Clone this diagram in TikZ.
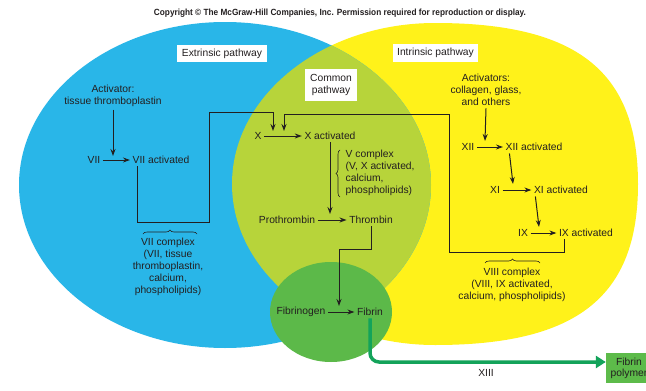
\documentclass[tikz,border=0pt]{standalone}
\usepackage{graphicx}
\usepackage{fontspec}
\setmainfont{Liberation Sans}
\usetikzlibrary{arrows.meta,decorations.pathreplacing}
\definecolor{cblue}{HTML}{29B6E8}
\definecolor{cyellow}{HTML}{FFF21A}
\definecolor{lgreen}{HTML}{B7D43A}
\definecolor{dgreen}{HTML}{5CB949}
\definecolor{agreen}{HTML}{13A35A}
\definecolor{pgreen}{HTML}{5DBB4A}
\definecolor{txt}{HTML}{231F20}
\begin{document}
\begin{tikzpicture}[x=1pt,y=-1pt,
  lbl/.style={font=\fontsize{10.3}{12}\selectfont, text=txt, inner sep=2.5pt, align=center},
  arr/.style={draw=txt, line width=1pt, -{Stealth[length=7pt,width=5pt]}},
  brc/.style={draw=txt, line width=0.6pt, decorate, decoration={brace,amplitude=4pt}},
  hdr/.style={fill=white, inner sep=0pt, text=txt, font=\fontsize{10.3}{12}\selectfont, align=center}]
\clip (0,0) rectangle (646,391);
\fill[white] (0,0) rectangle (646,391);
% yellow (intrinsic)
\def\yellowpath{(435,23) .. controls (577.1,23) and (638,71.3) .. (638,184)
  .. controls (638,296.7) and (577.1,345) .. (435,345)
  .. controls (323,345) and (232,272.9) .. (232,184)
  .. controls (232,95.1) and (323,23) .. (435,23) -- cycle}
\fill[cyellow] \yellowpath;
% blue (extrinsic)
\fill[cblue] (225,185) ellipse [x radius=206, y radius=163];
% common (overlap)
\begin{scope}
  \clip (225,185) ellipse [x radius=206, y radius=163];
  \fill[lgreen] \yellowpath;
\end{scope}
% fibrin circle
\fill[dgreen] (331,312) ellipse [x radius=61, y radius=50];

% copyright
\node[inner sep=0pt, text=txt] (cr) at (340,13) {\resizebox{372pt}{6.5pt}{\bfseries Copyright \textcopyright{} The McGraw-Hill Companies, Inc. Permission required for reproduction or display.}};

% headers
\node[hdr, minimum width=90pt, minimum height=17pt] (ext) at (222,53.5) {Extrinsic pathway};
\node[hdr, minimum width=85pt, minimum height=17.5pt] (int) at (435.5,53) {Intrinsic pathway};
\node[hdr, minimum width=52pt, minimum height=32pt] (com) at (331,85) {Common\\pathway};

% extrinsic
\node[lbl] (act1) at (113,96) {Activator:\\tissue thromboplastin};
\node[lbl] (vii) at (94,160) {VII};
\node[lbl] (viia) at (161,160) {VII activated};
\node[lbl] (viic) at (168,267) {VII complex\\(VII, tissue\\thromboplastin,\\calcium,\\phospholipids)};

% common
\node[lbl] (x) at (258,136) {X};
\node[lbl] (xa) at (330,136) {X activated};
\node[lbl, align=left, anchor=west] (vc) at (343,173) {V complex\\(V, X activated,\\calcium,\\phospholipids)};
\node[lbl] (pro) at (287,220) {Prothrombin};
\node[lbl] (thr) at (371,220) {Thrombin};
\node[lbl] (fbg) at (301,312) {Fibrinogen};
\node[lbl] (fib) at (370,312) {Fibrin};

% intrinsic
\node[lbl] (act2) at (486,90) {Activators:\\collagen, glass,\\and others};
\node[lbl] (xii) at (468,147) {XII};
\node[lbl] (xiia) at (534,147) {XII activated};
\node[lbl] (xi) at (495,190) {XI};
\node[lbl] (xia) at (561,190) {XI activated};
\node[lbl] (ix) at (523,233) {IX};
\node[lbl] (ixa) at (586,233) {IX activated};
\node[lbl] (viiic) at (512,285) {VIII complex\\(VIII, IX activated,\\calcium, phospholipids)};

% final
\node[lbl] (xiii) at (486,373) {XIII};
\node[fill=pgreen, text=txt, font=\fontsize{10.3}{11}\selectfont, align=center, minimum width=46pt, minimum height=30pt, inner sep=0pt] (poly) at (629,368) {Fibrin\\polymer};

% coordinates on arrows
\coordinate (c1) at (113,156);
\coordinate (k1) at (209,222);
\coordinate (k2) at (209,112);
\coordinate (e1) at (273,131);
\coordinate (k3) at (449,252);
\coordinate (k4) at (449,114);
\coordinate (e2) at (284,131);
\coordinate (e3) at (330,214);
\coordinate (k5) at (339,249);
\coordinate (e4) at (339,306);
\coordinate (e5) at (485,141);
\coordinate (e6) at (513,184);
\coordinate (e7) at (539,227);

% extrinsic arrows
\draw[arr] (act1.south) -- (c1);
\draw[arr] (vii.east) -- (viia.west);
\draw[arr] ([xshift=8pt]viia.south west) |- (k1) -- (k2) -| (e1);
% intrinsic arrows
\draw[arr] (act2.south) -- (e5);
\draw[arr] (xii.east) -- (xiia.west);
\draw[arr] ([xshift=6.5pt]xiia.south west) -- (e6);
\draw[arr] (xi.east) -- (xia.west);
\draw[arr] ([xshift=4pt]xia.south west) -- (e7);
\draw[arr] (ix.east) -- (ixa.west);
\draw[arr] ([xshift=8pt]ixa.south west) |- (k3) -- (k4) -| (e2);
% common arrows
\draw[arr] (x.east) -- (xa.west);
\draw[arr] (xa.south) -- (e3);
\draw[arr] (pro.east) -- (thr.west);
\draw[arr] (thr.south) |- (k5) -- (e4);
\draw[arr] (fbg.east) -- (fib.west);
% fibrin to polymer
\draw[draw=agreen, line width=3.5pt, rounded corners=9pt, -{Triangle[length=10pt,width=12pt]}] (fib.south) |- ([yshift=6pt]poly.west);

% braces
\draw[brc] (340,197) -- (340,150);
\draw[brc] (143,234) -- (197,234);
\draw[brc] (485,263) -- (540,263);
\end{tikzpicture}
\end{document}
